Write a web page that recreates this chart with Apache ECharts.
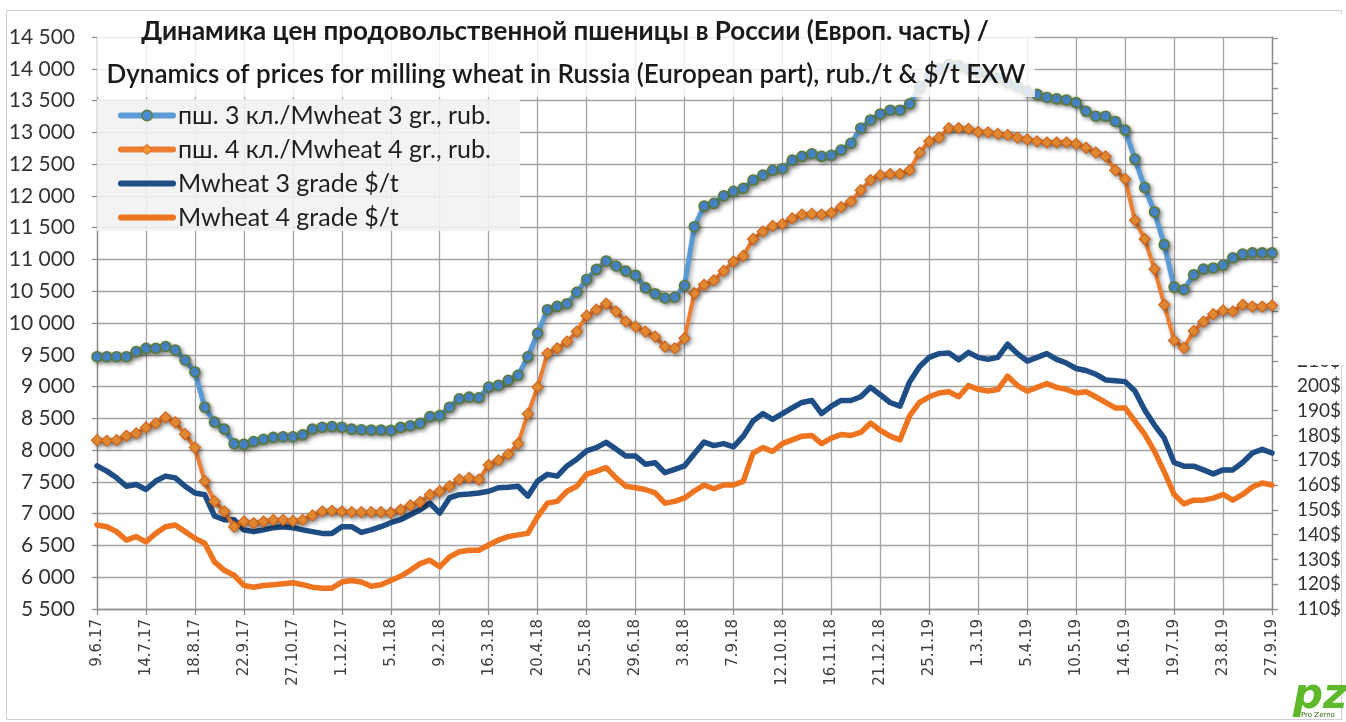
<!DOCTYPE html>
<html>
<head>
<meta charset="utf-8">
<script src="https://cdn.jsdelivr.net/npm/echarts@6/dist/echarts.min.js"></script>
<style>
  html, body { margin: 0; padding: 0; background: #ffffff; }
  #chart { width: 1346px; height: 722px; }
</style>
</head>
<body>
<div id="chart"></div>
<script>
// ---------- DATA ----------
const dates = [
  '9.6.17','16.6.17','23.6.17','30.6.17','7.7.17','14.7.17','21.7.17','28.7.17','4.8.17','11.8.17',
  '18.8.17','25.8.17','1.9.17','8.9.17','15.9.17','22.9.17','29.9.17','6.10.17','13.10.17','20.10.17',
  '27.10.17','3.11.17','10.11.17','17.11.17','24.11.17','1.12.17','8.12.17','15.12.17','22.12.17','29.12.17',
  '5.1.18','12.1.18','19.1.18','26.1.18','2.2.18','9.2.18','16.2.18','23.2.18','2.3.18','9.3.18',
  '16.3.18','23.3.18','30.3.18','6.4.18','13.4.18','20.4.18','27.4.18','4.5.18','11.5.18','18.5.18',
  '25.5.18','1.6.18','8.6.18','15.6.18','22.6.18','29.6.18','6.7.18','13.7.18','20.7.18','27.7.18',
  '3.8.18','10.8.18','17.8.18','24.8.18','31.8.18','7.9.18','14.9.18','21.9.18','28.9.18','5.10.18',
  '12.10.18','19.10.18','26.10.18','2.11.18','9.11.18','16.11.18','23.11.18','30.11.18','7.12.18','14.12.18',
  '21.12.18','28.12.18','4.1.19','11.1.19','18.1.19','25.1.19','1.2.19','8.2.19','15.2.19','22.2.19',
  '1.3.19','8.3.19','15.3.19','22.3.19','29.3.19','5.4.19','12.4.19','19.4.19','26.4.19','3.5.19',
  '10.5.19','17.5.19','24.5.19','31.5.19','7.6.19','14.6.19','21.6.19','28.6.19','5.7.19','12.7.19',
  '19.7.19','26.7.19','2.8.19','9.8.19','16.8.19','23.8.19','30.8.19','6.9.19','13.9.19','20.9.19',
  '27.9.19'
];

// Wheat 3rd grade, rub/t (left axis)
const wheat3Rub = [
  9470, 9470, 9470, 9470, 9550, 9600, 9600, 9630, 9575, 9415,
  9230, 8675, 8440, 8330, 8100, 8090, 8135, 8170, 8200, 8210,
  8210, 8240, 8330, 8360, 8370, 8360, 8330, 8320, 8315, 8315,
  8310, 8357, 8384, 8421, 8527, 8542, 8675, 8807, 8833, 8823,
  8992, 9018, 9098, 9177, 9468, 9839, 10209, 10262, 10304, 10484,
  10685, 10844, 10976, 10897, 10817, 10749, 10553, 10458, 10394, 10405,
  10590, 11515, 11840, 11883, 12001, 12072, 12119, 12249, 12326, 12403,
  12427, 12562, 12622, 12663, 12622, 12639, 12722, 12828, 13065, 13195,
  13289, 13348, 13348, 13449, 13715, 13880, 14000, 14070, 14050, 14000,
  13950, 13900, 13850, 13780, 13720, 13650, 13597, 13549, 13526, 13508,
  13467, 13331, 13254, 13254, 13171, 13035, 12580, 12131, 11747, 11233,
  10565, 10524, 10760, 10849, 10866, 10908, 11026, 11085, 11103, 11103,
  11103
];

// Wheat 4th grade, rub/t (left axis)
const wheat4Rub = [
  8156, 8146, 8156, 8225, 8262, 8357, 8421, 8516, 8437, 8251,
  8040, 7510, 7193, 7034, 6796, 6876, 6849, 6876, 6902, 6902,
  6886, 6902, 6971, 7034, 7045, 7034, 7024, 7024, 7024, 7024,
  7015, 7061, 7130, 7183, 7299, 7352, 7431, 7537, 7563, 7537,
  7765, 7839, 7934, 8103, 8569, 8992, 9521, 9601, 9706, 9865,
  10114, 10209, 10304, 10182, 10024, 9944, 9865, 9786, 9627, 9601,
  9759, 10470, 10600, 10671, 10819, 10967, 11055, 11321, 11440, 11528,
  11558, 11646, 11706, 11717, 11706, 11735, 11824, 11912, 12090, 12249,
  12326, 12344, 12344, 12403, 12681, 12858, 12917, 13065, 13065, 13053,
  13006, 13000, 12975, 12958, 12917, 12888, 12858, 12840, 12840, 12840,
  12817, 12757, 12681, 12622, 12403, 12267, 11617, 11321, 10849, 10287,
  9726, 9608, 9874, 10021, 10139, 10198, 10181, 10287, 10258, 10258,
  10275
];

// Wheat 3rd grade, $/t (right axis)
const wheat3Usd = [
  167.7, 165.6, 162.9, 159.5, 160.2, 158.2, 161.6, 163.6, 162.9, 159.5,
  156.8, 156.1, 147.5, 146.0, 146.0, 141.9, 141.2, 141.9, 142.8, 143.2,
  142.8, 141.9, 141.2, 140.5, 140.5, 143.2, 143.2, 140.9, 141.9, 143.2,
  144.8, 146.0, 148.0, 150.0, 152.7, 148.7, 154.8, 156.1, 156.4, 156.8,
  157.5, 158.9, 159.1, 159.5, 155.5, 161.6, 164.3, 163.6, 167.7, 170.4,
  173.8, 175.1, 177.2, 174.5, 171.7, 171.7, 168.4, 169.0, 165.0, 166.3,
  167.7, 172.6, 177.3, 175.9, 176.7, 175.4, 179.7, 185.8, 188.8, 186.5,
  188.8, 191.1, 193.3, 194.1, 188.8, 191.8, 194.1, 194.1, 195.6, 199.4,
  196.4, 193.3, 191.8, 201.7, 207.7, 211.5, 213.0, 213.3, 210.5, 213.5,
  211.5, 210.7, 211.5, 216.8, 213.0, 210.0, 211.5, 213.0, 210.7, 209.2,
  207.0, 206.2, 204.7, 202.4, 202.1, 201.7, 197.9, 190.3, 184.2, 178.9,
  169.1, 167.6, 167.6, 166.1, 164.5, 166.1, 166.1, 169.1, 172.9, 174.4,
  172.9
];

// Wheat 4th grade, $/t (right axis)
const wheat4Usd = [
  143.9, 143.2, 141.2, 137.8, 139.2, 137.1, 140.5, 143.2, 143.9, 141.2,
  138.5, 136.5, 129.0, 125.6, 123.6, 119.5, 118.8, 119.5, 119.8, 120.2,
  120.6, 119.8, 118.8, 118.4, 118.4, 120.9, 121.5, 120.9, 119.2, 119.8,
  121.5, 123.2, 125.6, 128.3, 129.7, 127.0, 131.0, 133.1, 133.7, 133.7,
  135.8, 137.8, 139.2, 139.9, 140.5, 147.3, 152.7, 153.4, 157.5, 159.5,
  164.3, 165.6, 167.0, 162.9, 159.5, 158.9, 158.2, 156.8, 152.7, 153.4,
  154.8, 157.6, 160.0, 158.5, 160.0, 160.0, 161.5, 172.9, 175.1, 173.6,
  176.7, 178.2, 179.7, 180.0, 176.7, 178.9, 180.4, 180.0, 181.2, 185.0,
  182.0, 179.7, 178.2, 188.0, 193.3, 195.6, 197.1, 197.6, 195.6, 200.1,
  198.6, 197.9, 198.5, 203.9, 200.1, 197.9, 199.4, 200.9, 199.4, 198.6,
  197.1, 197.6, 195.6, 193.3, 191.1, 191.1, 185.8, 180.4, 173.6, 165.3,
  156.2, 152.4, 153.9, 153.9, 154.7, 156.2, 153.9, 156.2, 159.2, 160.8,
  160.0
];

const seriesNames = [
  'пш. 3 кл./Mwheat 3 gr., rub.',
  'пш. 4 кл./Mwheat 4 gr., rub.',
  'Mwheat 3 grade $/t',
  'Mwheat 4 grade $/t'
];

const titleLines = [
  'Динамика цен продовольственной пшеницы в России (Европ. часть) /',
  'Dynamics of prices for milling wheat in Russia (European part), rub./t & $/t EXW'
];

// axis scales
const rubAxis = { min: 5500, max: 14500, step: 500 };
const usdAxis = { min: 110, max: 340.7, step: 10, lastLabel: 210 };
const xLabelEvery = 5;

// ---------- CHART ----------
const FONT = 'Lato, "Noto Sans", sans-serif';
const gridColor = '#a3a3a3';
const axisColor = '#8c8c8c';
const labelColor = '#404040';

const colA = '#5B9BD5', colB = '#ED7D31', colC = '#1F4E86', colD = '#EE7420';

const chart = echarts.init(document.getElementById('chart'), null, { renderer: 'canvas' });

function fmtThousands(v) {
  return String(v).replace(/\B(?=(\d{3})+(?!\d))/g, ' ');
}

const shadow = { shadowColor: 'rgba(0,0,0,0.35)', shadowBlur: 4, shadowOffsetX: 2, shadowOffsetY: 2 };

const option = {
  animation: false,
  backgroundColor: '#ffffff',
  grid: { left: 97, right: 74, top: 37, bottom: 113, containLabel: false },
  xAxis: {
    type: 'category',
    data: dates,
    boundaryGap: false,
    axisLine: { show: true, lineStyle: { color: axisColor, width: 1.3 } },
    axisTick: { show: true, interval: xLabelEvery - 1, length: 6, lineStyle: { color: axisColor, width: 1.3 } },
    axisLabel: {
      interval: xLabelEvery - 1, rotate: 90, margin: 10,
      fontFamily: '"DejaVu Sans", sans-serif', fontSize: 15, color: labelColor
    },
    splitLine: { show: true, interval: xLabelEvery - 1, lineStyle: { color: gridColor, width: 1.3 } }
  },
  yAxis: [
    {
      type: 'value', position: 'left',
      min: rubAxis.min, max: rubAxis.max, interval: rubAxis.step,
      axisLine: { show: true, lineStyle: { color: axisColor, width: 1.3 } },
      axisTick: { show: true, length: 5, lineStyle: { color: axisColor, width: 1.3 } },
      axisLabel: { formatter: fmtThousands, fontFamily: FONT, fontSize: 21, color: '#333333', margin: 22 },
      splitLine: { show: true, lineStyle: { color: gridColor, width: 1.3 } }
    },
    {
      type: 'value', position: 'right',
      min: usdAxis.min, max: usdAxis.max, interval: usdAxis.step,
      axisLine: { show: true, lineStyle: { color: axisColor, width: 1.3 } },
      axisTick: { show: true, length: 6, lineStyle: { color: axisColor, width: 1.3 } },
      axisLabel: {
        formatter: function (v) { return v <= usdAxis.lastLabel ? Math.round(v) + '$' : ''; },
        fontFamily: FONT, fontSize: 19, color: '#333333', margin: 25, padding: [6, 0, 0, 0],
        showMaxLabel: false
      },
      splitLine: { show: false }
    }
  ],
  legend: {
    orient: 'vertical', left: 113, top: 98,
    itemWidth: 52, itemHeight: 13, itemGap: 9,
    textStyle: { fontFamily: FONT, fontSize: 25, color: '#1f1f1f', lineHeight: 24 },
    data: [
      { name: seriesNames[0], lineStyle: { width: 6, color: colA },
        itemStyle: { color: '#4C8CD4', borderColor: '#5A7B38', borderWidth: 1.4 } },
      { name: seriesNames[1], lineStyle: { width: 6, color: colB },
        itemStyle: { color: '#F39436', borderColor: '#D0651C', borderWidth: 1 } },
      { name: seriesNames[2], lineStyle: { width: 6, color: colC }, itemStyle: { opacity: 0 } },
      { name: seriesNames[3], lineStyle: { width: 6, color: colD }, itemStyle: { opacity: 0 } }
    ],
    z: 120
  },
  series: [
    {
      name: seriesNames[0], type: 'line', yAxisIndex: 0, data: wheat3Rub,
      symbol: 'circle', symbolSize: 10, showAllSymbol: true, z: 5,
      lineStyle: Object.assign({ color: colA, width: 5, cap: 'round', join: 'round' }, shadow),
      itemStyle: Object.assign({ color: '#4C8CD4', borderColor: '#5A7B38', borderWidth: 1.6 }, shadow)
    },
    {
      name: seriesNames[1], type: 'line', yAxisIndex: 0, data: wheat4Rub,
      symbol: 'diamond', symbolSize: 11, showAllSymbol: true, z: 4,
      lineStyle: Object.assign({ color: colB, width: 4, cap: 'round', join: 'round' }, shadow),
      itemStyle: Object.assign({ color: '#F39436', borderColor: '#D0651C', borderWidth: 1.2 }, shadow)
    },
    {
      name: seriesNames[2], type: 'line', yAxisIndex: 1, data: wheat3Usd,
      symbol: 'none', z: 3,
      lineStyle: { color: colC, width: 5.5, cap: 'round', join: 'round' },
      itemStyle: { color: colC }
    },
    {
      name: seriesNames[3], type: 'line', yAxisIndex: 1, data: wheat4Usd,
      symbol: 'none', z: 3,
      lineStyle: { color: colD, width: 5.5, cap: 'round', join: 'round' },
      itemStyle: { color: colD }
    }
  ],
  graphic: [
    // outer frame
    { type: 'rect', silent: true, z: 1, shape: { x: 6.5, y: 10.5, width: 1335, height: 709 },
      style: { fill: 'none', stroke: '#cfcfcf', lineWidth: 1 } },
    // title backdrop
    { type: 'rect', silent: true, z: 50, shape: { x: 97, y: 14, width: 938, height: 83 },
      style: { fill: 'rgba(255,255,255,0.82)' } },
    // legend backdrop
    { type: 'rect', silent: true, z: 50, shape: { x: 97, y: 99, width: 423, height: 132 },
      style: { fill: 'rgba(242,242,242,0.9)' } },
    // cover for upper secondary-axis labels
    { type: 'rect', silent: true, z: 60, shape: { x: 1280, y: 14, width: 66, height: 351 },
      style: { fill: '#ffffff' } },
    { type: 'text', silent: true, z: 100, x: 565, y: 32,
      style: { text: titleLines[0], font: 'bold 26px ' + FONT, fill: '#1a1a1a',
               align: 'center', verticalAlign: 'middle', textAlign: 'center', textVerticalAlign: 'middle' } },
    { type: 'text', silent: true, z: 100, x: 566, y: 75,
      style: { text: titleLines[1], font: '600 26px ' + FONT, fill: '#1a1a1a',
               align: 'center', verticalAlign: 'middle', textAlign: 'center', textVerticalAlign: 'middle' } },
    // logo
    { type: 'text', silent: true, z: 100, x: 1293, y: 676,
      style: { text: 'pz', font: 'bold italic 42px "DejaVu Sans", sans-serif', fill: '#5DB82A' } },
    { type: 'text', silent: true, z: 101, x: 1301, y: 712,
      style: { text: 'Pro Zerno', font: '7px "DejaVu Sans", sans-serif', fill: '#2f6b12' } }
  ]
};

chart.setOption(option);
</script>
</body>
</html>
